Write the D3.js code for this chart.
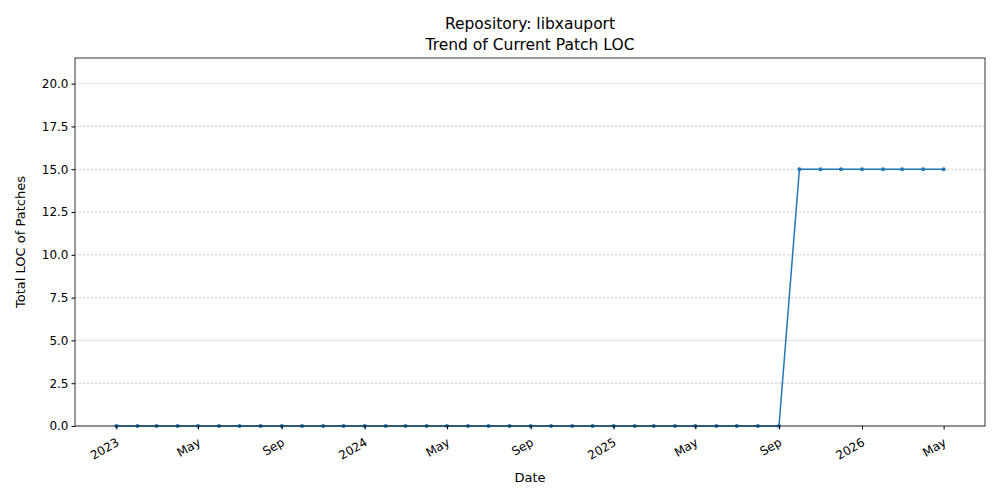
<!DOCTYPE html>
<html><head><meta charset="utf-8">
<script src="https://cdn.jsdelivr.net/npm/d3@7"></script>
<style>body{margin:0;background:#fff}text{font-family:"DejaVu Sans",sans-serif}</style>
</head><body><svg id="c" width="1000" height="500"></svg>
<script>
const months = [];
for (let y = 2023; y <= 2026; y++) for (let m = 0; m < 12; m++) { if (y === 2026 && m > 4) break; months.push(new Date(y, m, 1)); }
const values = [0,0,0,0,0,0,0,0,0,0,0,0, 0,0,0,0,0,0,0,0,0,0,0,0, 0,0,0,0,0,0,0,0,0, 15,15,15, 15,15,15,15,15];
const yTicks = [0,2.5,5,7.5,10,12.5,15,17.5,20];
const xTicks = [new Date(2023,0,1),new Date(2023,4,1),new Date(2023,8,1),new Date(2024,0,1),new Date(2024,4,1),new Date(2024,8,1),new Date(2025,0,1),new Date(2025,4,1),new Date(2025,8,1),new Date(2026,0,1),new Date(2026,4,1)];
const xTickLabels = ["2023","May","Sep","2024","May","Sep","2025","May","Sep","2026","May"];

const L=75,R=985,T=58,B=426;
const svg=d3.select("#c");
const t0=+months[0], t1=+months[months.length-1], pad=(t1-t0)*0.05;
const x=d3.scaleTime().domain([new Date(t0-pad),new Date(t1+pad)]).range([L,R]);
const y=d3.scaleLinear().domain([0,21.5]).range([B,T]);

svg.append("g").selectAll("line").data(yTicks).join("line")
 .attr("x1",L).attr("x2",R).attr("y1",d=>y(d)).attr("y2",d=>y(d))
 .attr("stroke","#b0b0b0").attr("stroke-width",0.6).attr("stroke-dasharray","2.5,1.5");

const line=d3.line().x((d,i)=>x(months[i])).y(d=>y(d));
svg.append("path").datum(values).attr("d",line).attr("fill","none").attr("stroke","#1f77b4").attr("stroke-width",1.5);
svg.append("g").selectAll("circle").data(values).join("circle")
 .attr("cx",(d,i)=>x(months[i])).attr("cy",d=>y(d)).attr("r",2).attr("fill","#1f77b4");

svg.append("rect").attr("x",L).attr("y",T).attr("width",R-L).attr("height",B-T).attr("fill","none").attr("stroke","#000").attr("stroke-width",0.8);

const ya=svg.append("g").attr("transform",`translate(${L},0)`).call(d3.axisLeft(y).tickValues(yTicks).tickFormat(d3.format(".1f")).tickSize(3.5).tickSizeOuter(0));
ya.select(".domain").remove();
ya.selectAll("text").attr("font-size",12).attr("fill","#000");
const xa=svg.append("g").attr("transform",`translate(0,${B})`).call(d3.axisBottom(x).tickValues(xTicks).tickFormat((d,i)=>xTickLabels[i]).tickSize(3.5).tickSizeOuter(0));
xa.select(".domain").remove();
xa.selectAll("text").attr("font-size",12).attr("fill","#000").attr("text-anchor","end").attr("dy","0.3em")
 .attr("transform","translate(-2,10) rotate(-30)");

svg.append("text").attr("x",530).attr("y",482).attr("text-anchor","middle").attr("font-size",13).text("Date");
svg.append("text").attr("transform","translate(25,242) rotate(-90)").attr("text-anchor","middle").attr("font-size",13).text("Total LOC of Patches");
svg.append("text").attr("x",530).attr("y",29).attr("text-anchor","middle").attr("font-size",15.5).text("Repository: libxauport");
svg.append("text").attr("x",530).attr("y",50).attr("text-anchor","middle").attr("font-size",15.5).text("Trend of Current Patch LOC");
</script></body></html>
